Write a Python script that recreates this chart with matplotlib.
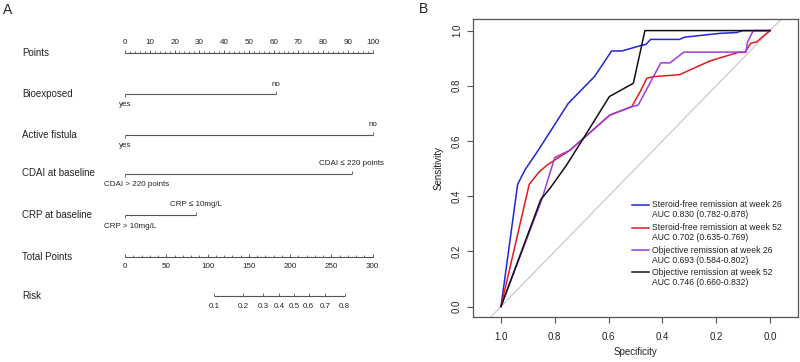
"""Nomogram (A) and ROC curves (B)"""

import numpy as np
import matplotlib
matplotlib.use("Agg")
import matplotlib.pyplot as plt

plt.rcParams['font.family'] = ['Liberation Sans', 'DejaVu Sans']

# ---- panel A data: nomogram ----
row_names = ['Points', 'Bioexposed', 'Active fistula', 'CDAI at baseline',
             'CRP at baseline', 'Total Points', 'Risk']
factor_names = ['Bioexposed', 'Active fistula', 'CDAI at baseline', 'CRP at baseline']
factor_low_labels = ['yes', 'yes', 'CDAI > 220 points', 'CRP > 10mg/L']
factor_high_labels = ['no', 'no', 'CDAI \u2264 220 points', 'CRP \u2264 10mg/L']
factor_points = [61.0, 100.0, 91.5, 28.7]

points_ticks = list(range(0, 101, 10))
total_ticks = list(range(0, 301, 50))
risk_ticks = [0.1, 0.2, 0.3, 0.4, 0.5, 0.6, 0.7, 0.8]
risk_intercept = 204.7   # total points where risk = 0.5
risk_slope = 44.2        # total points per logit unit

# ---- panel B data: ROC curves ----
spec_sf26 = [1.0, 0.938, 0.911, 0.861, 0.750, 0.651, 0.589, 0.551, 0.483, 0.461,
             0.444, 0.337, 0.318, 0.186, 0.124, 0.101, 0.0]
sens_sf26 = [0.0, 0.443, 0.495, 0.567, 0.736, 0.835, 0.926, 0.926, 0.945, 0.950,
             0.968, 0.968, 0.976, 0.990, 0.993, 1.0, 1.0]

spec_sf52 = [1.0, 0.895, 0.858, 0.828, 0.743, 0.694, 0.595, 0.514, 0.483, 0.458,
             0.434, 0.337, 0.223, 0.118, 0.093, 0.072, 0.050, 0.0]
sens_sf52 = [0.0, 0.443, 0.488, 0.513, 0.567, 0.609, 0.694, 0.724, 0.778, 0.827,
             0.833, 0.840, 0.890, 0.921, 0.921, 0.954, 0.959, 1.0]

spec_obj26 = [1.0, 0.849, 0.800, 0.743, 0.694, 0.595, 0.514, 0.490, 0.406, 0.372,
              0.320, 0.089, 0.084, 0.062, 0.0]
sens_obj26 = [0.0, 0.386, 0.540, 0.567, 0.609, 0.694, 0.724, 0.730, 0.883, 0.883,
              0.922, 0.922, 0.958, 1.0, 1.0]

spec_obj52 = [1.0, 0.852, 0.818, 0.756, 0.694, 0.597, 0.508, 0.465, 0.0]
sens_obj52 = [0.0, 0.388, 0.428, 0.513, 0.609, 0.761, 0.809, 1.0, 1.0]

curve_names = ['Steroid-free remission at week 26', 'Steroid-free remission at week 52',
               'Objective remission at week 26', 'Objective remission at week 52']
curve_auc = ['AUC 0.830 (0.782-0.878)', 'AUC 0.702 (0.635-0.769)',
             'AUC 0.693 (0.584-0.802)', 'AUC 0.746 (0.660-0.832)']
curve_colors = ['#2424d4', '#e41a1c', '#9a3de0', '#111111']

TXT = '#222222'
LINE = '#555555'

fig = plt.figure(figsize=(8, 3.62), dpi=100)

# ---------------- panel A ----------------
axA = fig.add_axes([0, 0, 420 / 800, 1])
px_per_pt = 2.477
axA.set_xlim(-125 / px_per_pt, 295 / px_per_pt)
axA.set_ylim(362, 0)
axA.axis('off')

row_y = [52.7, 94, 134.5, 173.5, 215, 256.7, 296]
label_x = -41.6
for name, y in zip(row_names, row_y):
    axA.text(label_x, y, name, fontsize=7, color=TXT, ha='left', va='center')

val_fs = 5.8
tick_up = 3

# Points axis
y = row_y[0]
axA.hlines(y, 0, 100, color=LINE, lw=0.8)
axA.vlines(np.arange(0, 101, 2), y - 2, y, color=LINE, lw=0.6)
axA.vlines(points_ticks, y - tick_up, y, color=LINE, lw=0.6)
for t in points_ticks:
    axA.text(t, y - 10.5, str(t), fontsize=val_fs, color=TXT, ha='center', va='center')

# factor rows
for i, pts in enumerate(factor_points):
    y = row_y[i + 1]
    axA.hlines(y, 0, pts, color=LINE, lw=0.8)
    axA.vlines(0, y, y + 3, color=LINE, lw=0.6)
    axA.vlines(pts, y - 3, y, color=LINE, lw=0.6)
    axA.text(pts, y - 10, factor_high_labels[i], fontsize=val_fs, color=TXT,
             ha='center', va='center')
    low = factor_low_labels[i]
    if len(low) > 4:
        axA.text(-8.5, y + 11, low, fontsize=val_fs, color=TXT, ha='left', va='center')
    else:
        axA.text(0, y + 11, low, fontsize=val_fs, color=TXT, ha='center', va='center')

# Total points axis (0-300 mapped onto the 0-100 points scale)
y = row_y[5]
axA.hlines(y, 0, 100, color=LINE, lw=0.8)
axA.vlines(np.arange(0, 301, 10) / 3, y - 2, y, color=LINE, lw=0.6)
axA.vlines(np.array(total_ticks) / 3, y - tick_up, y, color=LINE, lw=0.6)
for t in total_ticks:
    axA.text(t / 3, y + 9.5, str(t), fontsize=val_fs, color=TXT, ha='center', va='center')

# Risk axis
y = row_y[6]
risk = np.array(risk_ticks)
risk_x = (risk_intercept + risk_slope * np.log(risk / (1 - risk))) / 3
axA.hlines(y, risk_x[0], risk_x[-1], color=LINE, lw=0.8)
axA.vlines(risk_x, y - tick_up, y, color=LINE, lw=0.6)
for r, xr in zip(risk_ticks, risk_x):
    axA.text(xr, y + 10.5, f'{r:.1f}', fontsize=val_fs, color=TXT, ha='center', va='center')

fig.text(3 / 800, 1 - 10 / 362, 'A', fontsize=10, color=TXT, ha='left', va='center')
fig.text(419 / 800, 1 - 9 / 362, 'B', fontsize=10, color=TXT, ha='left', va='center')

# ---------------- panel B ----------------
axB = fig.add_axes([473 / 800, 45 / 362, 325 / 800, 298 / 362])
axB.set_xlim(1.104, -0.104)
axB.set_ylim(-0.038, 1.042)
axB.axline((1, 0), (0, 1), color='#c4c4c4', lw=0.8, zorder=1)

curves = [(spec_sf26, sens_sf26), (spec_sf52, sens_sf52),
          (spec_obj26, sens_obj26), (spec_obj52, sens_obj52)]
for (sp, se), c in zip(curves, curve_colors):
    axB.plot(sp, se, color=c, lw=1.1, zorder=3)

ticks = [1.0, 0.8, 0.6, 0.4, 0.2, 0.0]
axB.set_xticks(ticks)
axB.set_xticklabels([f'{t:.1f}' for t in ticks])
axB.set_yticks(ticks)
axB.set_yticklabels([f'{t:.1f}' for t in ticks], rotation=90, va='center')
axB.tick_params(axis='both', direction='out', length=4, width=0.8, colors=LINE,
                labelcolor=TXT, labelsize=7)
axB.tick_params(axis='x', pad=6.5)
axB.tick_params(axis='y', pad=4)
for s in axB.spines.values():
    s.set_color(LINE)
    s.set_linewidth(0.9)
axB.set_xlabel('Specificity', fontsize=7, color=TXT, labelpad=4)
axB.set_ylabel('Sensitivity', fontsize=7, color=TXT, labelpad=6)

# legend drawn by hand so the key line sits on the first text line
leg_y = [0.3775, 0.300, 0.2248, 0.150]
line_dy = 10 / 298
for name, auc, c, ly in zip(curve_names, curve_auc, curve_colors, leg_y):
    axB.plot([0.490, 0.543], [ly, ly], color=c, lw=1.1, transform=axB.transAxes,
             clip_on=False)
    axB.text(0.552, ly, name, fontsize=6.2, color=TXT, ha='left', va='center',
             transform=axB.transAxes)
    axB.text(0.552, ly - line_dy, auc, fontsize=6.2, color=TXT, ha='left', va='center',
             transform=axB.transAxes)

fig.savefig('out.png', dpi=100, facecolor='white')
plt.close(fig)
